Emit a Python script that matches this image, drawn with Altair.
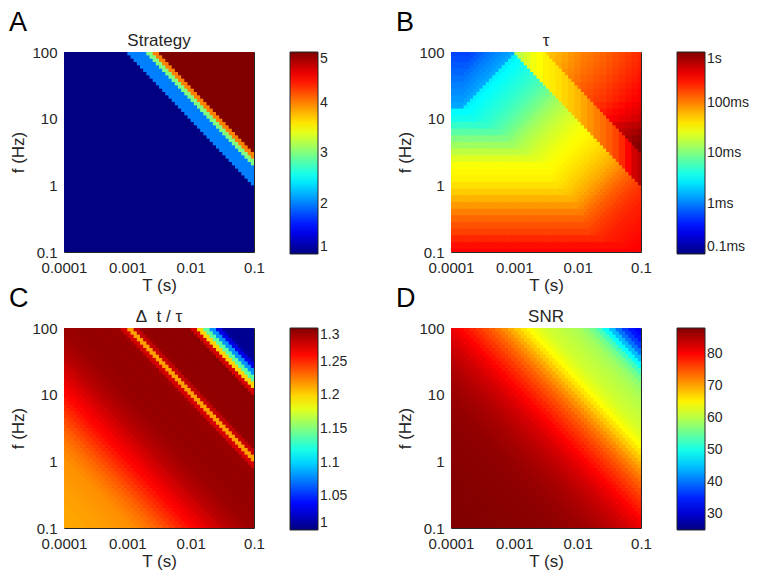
import numpy as np
import pandas as pd
import altair as alt

FONT = "Liberation Sans"
INK = "#262626"

# ---- grid: 60 x 60 cells, 0.05 decade each, log10 T in [-4,-1], log10 f in [-1,2]
N_CELLS = 60
STEP = 0.05

# ---- Panel A: strategy, nodes along diagonal s = log10(T*f) from -5.0 step 0.1 (61 nodes)
STRATEGY = [1] * 40 + [2, 2, 2, 3, 4] + [5] * 16

# ---- Panel C: Delta t / tau along diagonal s (61 nodes, -5.0 .. 1.0)
DT_TAU = [
    1.213, 1.213, 1.214, 1.214, 1.215, 1.215, 1.216, 1.217, 1.218, 1.219,
    1.220, 1.222, 1.225, 1.228, 1.232, 1.236, 1.241, 1.246, 1.251, 1.256,
    1.261, 1.265, 1.269, 1.273, 1.277, 1.281, 1.284, 1.287, 1.289, 1.291,
    1.292, 1.293, 1.294, 1.293, 1.294, 1.293, 1.294, 1.293, 1.292, 1.275,
    1.215, 1.280, 1.294, 1.295, 1.295, 1.296, 1.295, 1.296, 1.295, 1.296,
    1.275, 1.200, 1.140, 1.080, 1.030, 1.008, 1.005, 1.005, 1.005, 1.005,
    1.005,
]

# ---- Panel D: SNR along diagonal s (61 nodes, -5.0 .. 1.0)
SNR = [
    88.0, 88.0, 87.9, 87.9, 87.8, 87.8, 87.7, 87.7, 87.6, 87.6,
    87.5, 87.5, 87.4, 87.4, 87.3, 87.2, 87.1, 87.0, 86.8, 86.6,
    86.4, 86.1, 85.8, 85.4, 85.0, 84.5, 83.9, 83.3, 82.6, 81.8,
    81.0, 80.0, 79.0, 77.9, 76.8, 75.6, 74.3, 72.9, 71.3, 69.6,
    67.8, 66.0, 64.4, 63.2, 62.2, 61.5, 61.0, 60.5, 60.0, 59.4,
    58.6, 57.4, 55.6, 52.8, 49.0, 44.5, 40.0, 36.5, 34.0, 32.5,
    31.5,
]

# ---- Panel B: log10(tau / 1 s) profiles
# strategy-1 region: tau = max(TAU_F(f), TAU_D(T/f))
TAU_F = [  # log10 f = -1.0 .. 2.0, step 0.1
    -0.50, -0.55, -0.65, -0.75, -0.82, -0.90, -1.00, -1.10, -1.20, -1.30,
    -1.38, -1.45, -1.48, -1.52, -1.62, -1.75, -1.88, -2.00, -2.15, -2.30,
    -2.42, -2.50, -2.85, -2.90, -2.95, -3.00, -3.05, -3.10, -3.15, -3.20,
    -3.25,
]
TAU_D = [  # log10(T/f) = -6.0 .. 0.0, step 0.1
    -3.50, -3.42, -3.35, -3.28, -3.20, -3.13, -3.06, -3.00, -2.95, -2.90,
    -2.85, -2.55, -2.50, -2.46, -2.42, -2.38, -2.34, -2.30, -2.25, -2.20,
    -2.14, -2.08, -2.02, -1.95, -1.89, -1.83, -1.78, -1.73, -1.69, -1.65,
    -1.61, -1.57, -1.54, -1.51, -1.48, -1.45, -1.42, -1.39, -1.35, -1.31,
    -1.27, -1.22, -1.17, -1.11, -1.05, -0.98, -0.92, -0.86, -0.81, -0.76,
    -0.72, -0.68, -0.65, -0.62, -0.60, -0.58, -0.56, -0.54, -0.52, -0.50,
    -0.48,
]
# strategies 2-4 band: value by log10 T = -3.0 .. -1.0
TAU_BAND = [-1.85, -1.75, -1.65, -1.55, -1.50, -1.45, -1.42, -1.38, -1.33, -1.28,
            -1.22, -1.15, -1.08, -1.00, -0.93, -0.86, -0.78, -0.66, -0.50, -0.32,
            -0.22]
# strategy-5 region: top edge (f = 100 Hz) by log10 T = -2.6 .. -1.0
TAU_TOP = [-1.35, -1.30, -1.25, -1.20, -1.15, -1.10, -1.05, -1.00, -0.97, -0.93,
           -0.90, -0.86, -0.82, -0.78, -0.74, -0.70, -0.66]
# strategy-5 region: right edge (T = 0.1 s) by log10 f = 0.4 .. 2.0
TAU_RIGHT = [-0.10, -0.02, 0.00, -0.05, -0.12, -0.20, -0.30, -0.36, -0.42, -0.47,
             -0.50, -0.53, -0.56, -0.59, -0.62, -0.64, -0.66]

T_TICKS = [0.0001, 0.001, 0.01, 0.1]
F_TICKS = [0.1, 1, 10, 100]


def node(x, start, n):
    k = int(np.floor((x - start) / 0.1 + 0.5 + 1e-9))
    return min(max(k, 0), n - 1)


rows = []
OV = 0.015  # small overlap so neighbouring cells leave no hairline seams
for i in range(N_CELLS):
    lt0 = -4.0 + STEP * i
    ltc = lt0 + STEP / 2
    for j in range(N_CELLS):
        lf0 = -1.0 + STEP * j
        lfc = lf0 + STEP / 2
        ks = (i + j + 1) // 2
        a = STRATEGY[ks]
        if a == 1:
            b = max(TAU_F[node(lfc, -1.0, len(TAU_F))],
                    TAU_D[node(ltc - lfc, -6.0, len(TAU_D))])
        elif a < 5:
            b = TAU_BAND[node(ltc, -3.0, len(TAU_BAND))]
        else:
            b = (TAU_TOP[node(ltc, -2.6, len(TAU_TOP))]
                 + TAU_RIGHT[node(lfc, 0.4, len(TAU_RIGHT))] - TAU_RIGHT[-1])
        rows.append({
            "T0": 10 ** lt0, "T1": 10 ** (lt0 + STEP + OV),
            "f0": 10 ** lf0, "f1": 10 ** (lf0 + STEP + OV),
            "A": a, "B": b, "C": DT_TAU[ks], "D": SNR[ks],
        })
df = pd.DataFrame(rows)

JET = ["#000080", "#0000ff", "#00ffff", "#ffff00", "#ff0000", "#800000"]
JET_POS = [0, 1 / 8, 3 / 8, 5 / 8, 7 / 8, 1]


def jet_scale(lo, hi):
    return alt.Scale(domain=[lo + p * (hi - lo) for p in JET_POS], range=JET,
                     interpolate="rgb", clamp=True)


xs = alt.Scale(type="log", domain=[1e-4, 0.1], nice=False)
ys = alt.Scale(type="log", domain=[0.1, 100], nice=False)
xaxis = alt.Axis(values=T_TICKS, format="~g", title="T (s)", labelPadding=8, titlePadding=2)
yaxis = alt.Axis(values=F_TICKS, format="~g", title="f (Hz)", labelPadding=7, titlePadding=4)


def panel(field, title, letter, scale, legend):
    heat = alt.Chart(df).mark_rect(clip=True, strokeWidth=0).encode(
        x=alt.X("T0:Q", scale=xs, axis=xaxis),
        x2="T1:Q",
        y=alt.Y("f0:Q", scale=ys, axis=yaxis),
        y2="f1:Q",
        color=alt.Color(f"{field}:Q", scale=scale, legend=legend),
    )
    lab = alt.Chart(pd.DataFrame({"t": [letter]})).mark_text(
        font=FONT, fontSize=27, align="left", baseline="alphabetic", color="black"
    ).encode(x=alt.value(-55), y=alt.value(-21), text="t:N")
    ttl = alt.Chart(pd.DataFrame({"t": [title]})).mark_text(
        font=FONT, fontSize=17, align="center", baseline="alphabetic", color=INK
    ).encode(x=alt.value(95), y=alt.value(-6), text="t:N")
    return alt.layer(heat, lab, ttl).properties(width=190, height=200)


pA = panel("A", "Strategy", "A", jet_scale(1, 5),
           alt.Legend(values=[1, 2, 3, 4, 5], title=None, format="d"))
pB = panel("B", "τ", "B", jet_scale(-4, 0),
           alt.Legend(values=[-4, -3, -2, -1, 0], title=None,
                      labelExpr="{'-4':'0.1ms','-3':'1ms','-2':'10ms','-1':'100ms','0':'1s'}[datum.value]"))
pC = panel("C", "Δ\u00a0 t / τ", "C", jet_scale(1.0, 1.3),
           alt.Legend(values=[1.0, 1.05, 1.1, 1.15, 1.2, 1.25, 1.3], title=None, format=".2~f"))
pD = panel("D", "SNR", "D", jet_scale(25, 88),
           alt.Legend(values=[30, 40, 50, 60, 70, 80], title=None, format="d"))

chart = (
    alt.concat(pA, pB, pC, pD, columns=2, bounds="flush",
               spacing=alt.RowColnumber(row=76, column=197))
    .resolve_scale(color="independent")
    .properties(padding=0, background="white")
    .configure_view(stroke=INK, strokeWidth=1)
    .configure_axis(labelFont=FONT, labelFontSize=15, labelColor=INK,
                    titleFont=FONT, titleFontSize=17, titleFontWeight="normal",
                    titleColor=INK, ticks=False, domain=False, grid=False,
                    labelFlush=False)
    .configure_legend(orient="right", offset=36, padding=0, gradientLength=202,
                      gradientThickness=28, gradientStrokeColor=INK,
                      gradientStrokeWidth=1, labelFont=FONT, labelFontSize=14,
                      labelColor=INK, labelOffset=7, labelOverlap=False)
)

chart.save("out.html", embed_options={"renderer": "svg", "actions": False})
